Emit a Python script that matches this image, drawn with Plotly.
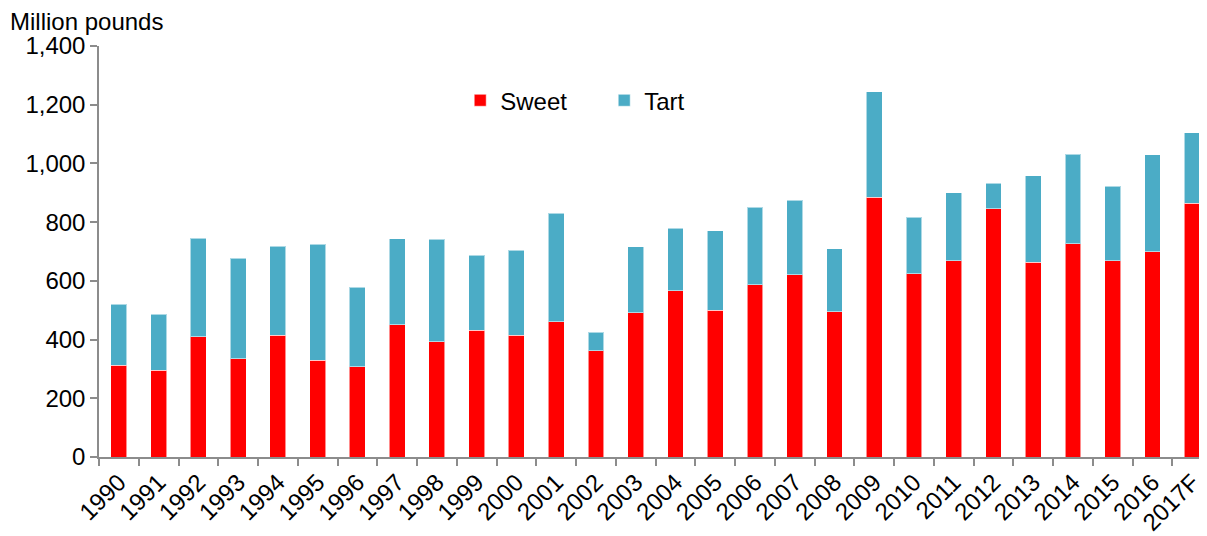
import plotly.graph_objects as go

years = ["1990", "1991", "1992", "1993", "1994", "1995", "1996", "1997", "1998", "1999",
         "2000", "2001", "2002", "2003", "2004", "2005", "2006", "2007", "2008", "2009",
         "2010", "2011", "2012", "2013", "2014", "2015", "2016", "2017F"]
sweet = [312, 296, 409, 335, 414, 329, 307, 450, 393, 431,
         414, 461, 362, 491, 566, 500, 587, 621, 495, 884,
         624, 668, 846, 663, 727, 669, 699, 865]
total = [521, 486, 745, 677, 718, 725, 579, 744, 741, 687,
         704, 831, 425, 716, 779, 771, 851, 874, 710, 1245,
         816, 900, 933, 958, 1032, 923, 1029, 1104]
tart = [t - s for t, s in zip(total, sweet)]

FONT = "Liberation Sans, Arial, sans-serif"
AXIS = "#8c8c8c"
FS = 24

fig = go.Figure()
fig.add_trace(go.Bar(x=years, y=sweet, name="Sweet",
                     marker=dict(color="#FF0000", line=dict(color="rgba(255,255,255,0.55)", width=1))))
fig.add_trace(go.Bar(x=years, y=tart, name="Tart",
                     marker=dict(color="#4BACC6", line=dict(color="rgba(255,255,255,0.55)", width=1))))

# page has an 8px body margin, so the figure is 8px smaller than the window
W, H = 1199, 528
L, T, B, R = 91.3, 37.7, 78.7, 0
PW = W - L - R
PH = H - T - B

fig.update_layout(
    width=W, height=H,
    barmode="stack", bargap=0.6,
    margin=dict(l=L, r=R, t=T, b=B, autoexpand=False),
    paper_bgcolor="white", plot_bgcolor="white",
    font=dict(family=FONT, size=FS, color="black"),
    showlegend=True,
    legend=dict(orientation="h", x=0.326, y=0.867, xanchor="left", yanchor="middle",
                font=dict(size=FS), entrywidth=99, bgcolor="rgba(0,0,0,0)",
                traceorder="normal"),
    annotations=[dict(text="Million pounds", xref="paper", yref="paper",
                      x=-L / PW, y=1 + (T - 13) / PH, xanchor="left", yanchor="middle",
                      showarrow=False, font=dict(size=FS))],
)
fig.update_xaxes(range=[-0.5, 27.37], showline=True, linecolor=AXIS, linewidth=1.5,
                 ticks="outside", tickson="boundaries", ticklen=7, tickcolor=AXIS, tickwidth=1.5,
                 tickangle=-45, showgrid=False, tickfont=dict(size=FS))
fig.update_yaxes(range=[0, 1400], dtick=200, tickformat=",", showline=True, linecolor=AXIS,
                 linewidth=1.5, ticks="outside", ticklen=7, tickcolor=AXIS, tickwidth=1.5,
                 showgrid=False, zeroline=False, tickfont=dict(size=FS))

fig.write_html("out.html")
